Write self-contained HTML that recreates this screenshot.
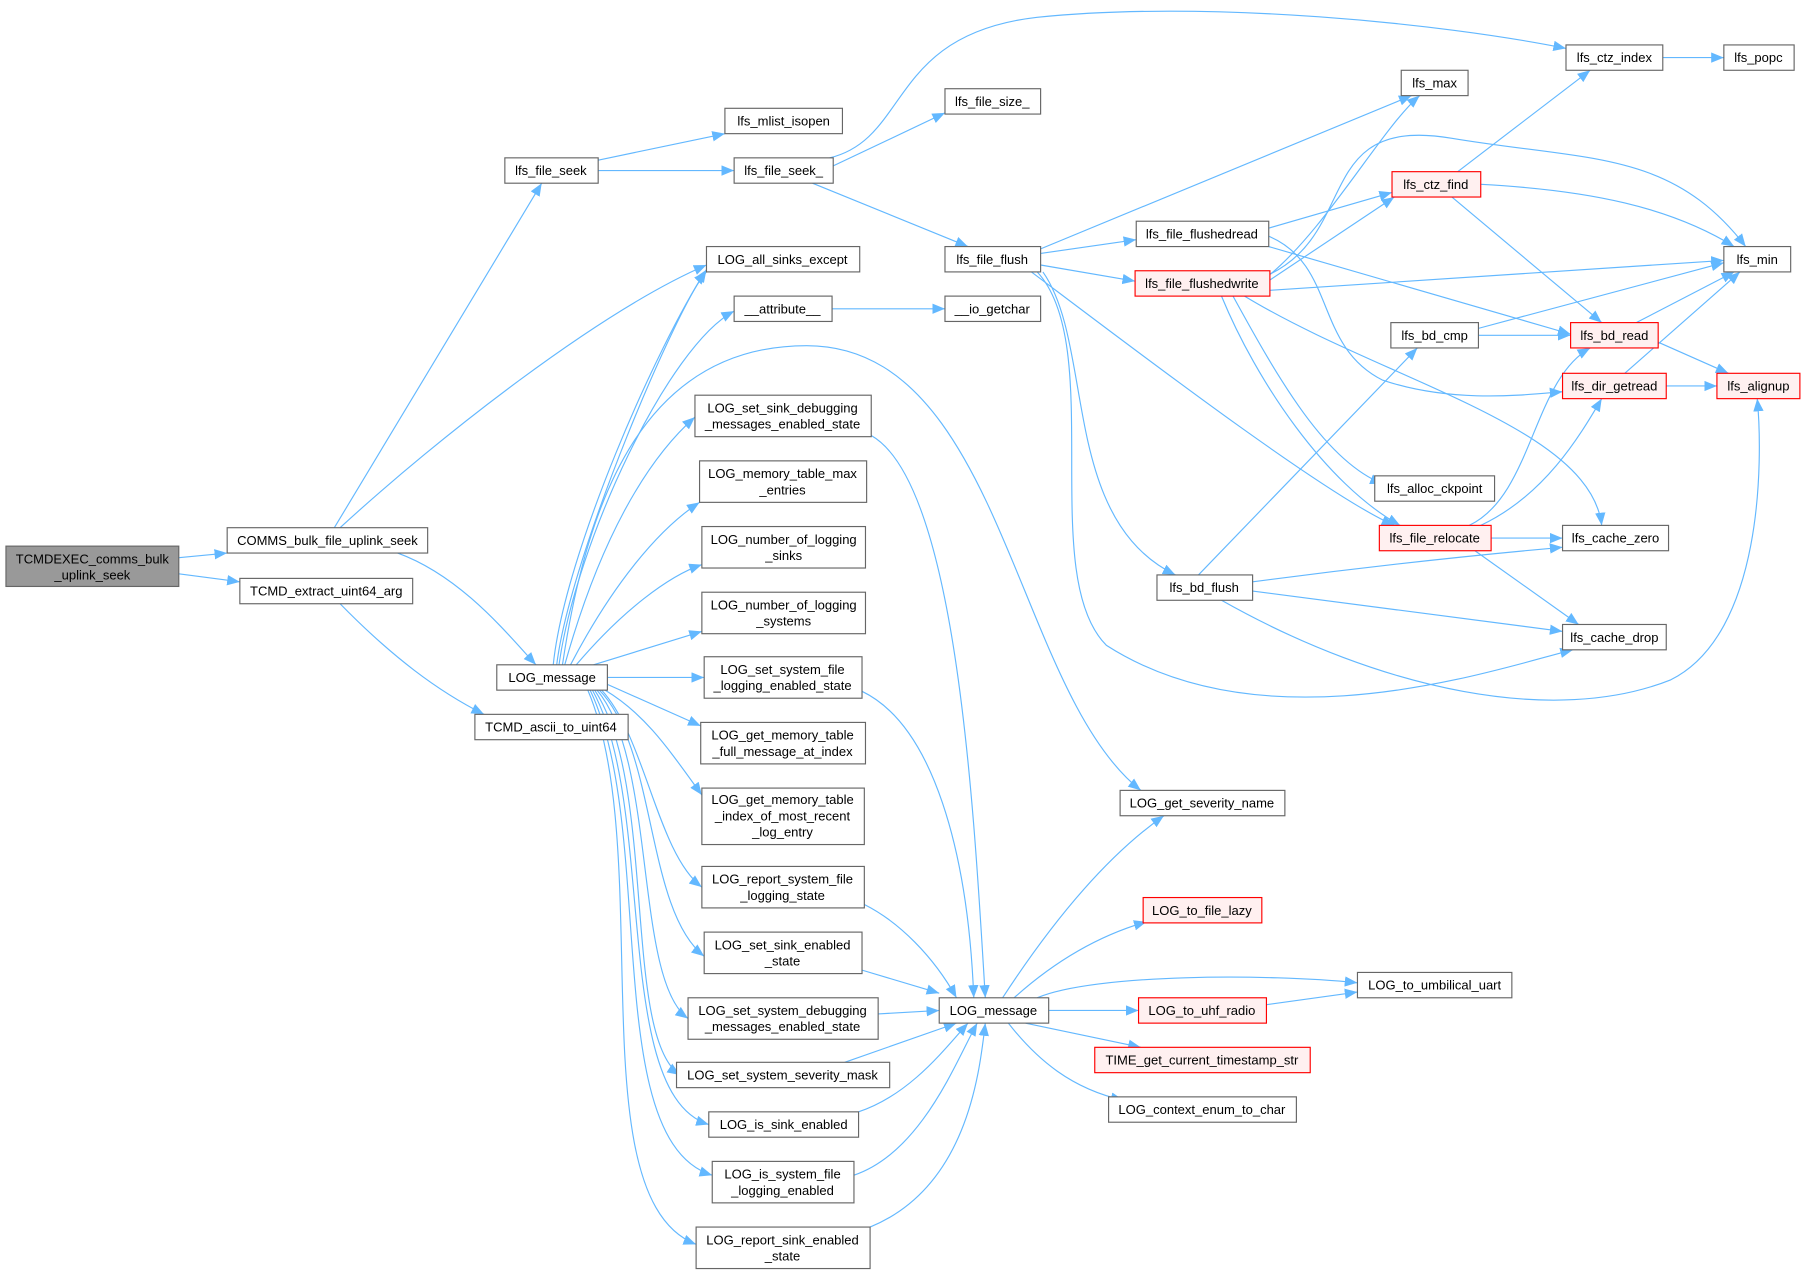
<!DOCTYPE html>
<html><head><meta charset="utf-8"><style>
html,body{margin:0;padding:0;background:#fff;}
svg{display:block;}
text{font-family:"Liberation Sans",Arial,sans-serif;font-size:11.3px;fill:#000;}
.n{fill:#fff;stroke:#666;stroke-width:1;}
.r{fill:#fff0f0;stroke:#f00;stroke-width:1;}
.g{fill:#999;stroke:#666;stroke-width:1;}
path{fill:none;stroke:#63b8ff;stroke-width:1;marker-end:url(#a);}
</style></head><body>
<svg width="1807" height="1272" viewBox="0 0 1568 1104" xmlns="http://www.w3.org/2000/svg">
<defs><marker id="a" markerUnits="userSpaceOnUse" markerWidth="12" markerHeight="10" refX="11" refY="4.5" orient="auto"><polygon points="0,0 11,4.5 0,9" fill="#63b8ff"/></marker></defs>
<g>
<path d="M155,484 L197,480"/>
<path d="M155,498 L208,505"/>
<path d="M290,458 L470,159"/>
<path d="M295,458 C380,380 520,270 613,230"/>
<path d="M345,480 C400,500 440,550 465,577"/>
<path d="M295,524 C340,570 380,600 420,620"/>
<path d="M519,139 L629,116"/>
<path d="M519,148 L637,148"/>
<path d="M723,144 L820,98"/>
<path d="M720,137 C790,120 770,30 900,15 C1050,0 1250,20 1359,42"/>
<path d="M705,159 L840,214"/>
<path d="M722,268 L820,268"/>
<path d="M483,577 C495,480 590,260 613,236"/>
<path d="M480,577 C490,480 570,300 613,234"/>
<path d="M485,577 C500,470 580,300 637,270"/>
<path d="M488,577 C510,430 560,300 700,300 C870,300 880,600 990,686"/>
<path d="M490,577 C520,470 560,400 603,362"/>
<path d="M495,577 C530,510 570,460 607,436"/>
<path d="M500,577 C540,530 580,500 609,490"/>
<path d="M515,577 L609,548"/>
<path d="M527,588 L611,588"/>
<path d="M527,594 L608,630"/>
<path d="M525,599 C560,620 580,650 609,690"/>
<path d="M522,599 C560,640 570,740 609,770"/>
<path d="M520,599 C570,650 560,790 611,830"/>
<path d="M518,599 C570,660 550,850 597,884"/>
<path d="M516,599 C570,680 540,900 590,933"/>
<path d="M514,599 C570,700 530,950 615,976"/>
<path d="M512,599 C570,720 520,990 618,1020"/>
<path d="M510,599 C570,740 500,1040 604,1080"/>
<path d="M756,378 C830,420 845,700 855,866"/>
<path d="M748,600 C810,630 840,740 845,866"/>
<path d="M750,785 C780,800 810,830 830,866"/>
<path d="M748,842 L815,862"/>
<path d="M762,880 L815,877"/>
<path d="M733,922 L830,888"/>
<path d="M745,965 C790,950 820,910 840,888"/>
<path d="M741,1020 C800,1000 830,920 848,888"/>
<path d="M755,1065 C840,1030 850,930 855,888"/>
<path d="M870,866 C900,820 950,750 1010,708"/>
<path d="M880,866 C920,830 960,810 995,800"/>
<path d="M900,866 C950,845 1100,845 1178,853"/>
<path d="M910,877 L988,877"/>
<path d="M890,888 L990,909"/>
<path d="M875,888 C900,920 930,945 975,955"/>
<path d="M1099,872 L1178,861"/>
<path d="M903,216 L1225,83"/>
<path d="M903,220 L986,208"/>
<path d="M903,230 L985,244"/>
<path d="M895,236 C980,300 1150,430 1210,456"/>
<path d="M905,236 C950,300 920,450 1020,499"/>
<path d="M900,236 C960,300 900,500 960,560 C1100,650 1300,580 1365,564"/>
<path d="M1101,198 L1208,167"/>
<path d="M1101,214 L1363,290"/>
<path d="M1101,205 C1160,230 1140,300 1200,330 C1260,350 1320,343 1356,340"/>
<path d="M1100,240 C1150,200 1200,110 1232,83"/>
<path d="M1102,243 L1210,171"/>
<path d="M1102,238 C1180,200 1140,100 1260,120 C1380,140 1450,130 1515,214"/>
<path d="M1102,252 L1496,226"/>
<path d="M1070,257 C1110,330 1150,400 1200,420"/>
<path d="M1060,257 C1090,330 1150,420 1215,456"/>
<path d="M1080,257 C1200,330 1380,370 1390,456"/>
<path d="M1265,149 L1380,61"/>
<path d="M1285,160 C1380,165 1450,180 1505,214"/>
<path d="M1260,171 L1390,280"/>
<path d="M1443,50 L1496,50"/>
<path d="M1283,285 L1496,228"/>
<path d="M1283,291 L1363,291"/>
<path d="M1420,280 L1505,236"/>
<path d="M1439,297 L1500,324"/>
<path d="M1410,324 L1510,236"/>
<path d="M1446,335 L1490,335"/>
<path d="M1275,456 C1330,430 1330,330 1380,302"/>
<path d="M1285,456 C1340,430 1370,380 1390,346"/>
<path d="M1294,467 L1356,467"/>
<path d="M1280,478 L1370,542"/>
<path d="M1040,499 L1230,302"/>
<path d="M1087,505 C1200,490 1300,480 1356,475"/>
<path d="M1087,513 L1356,548"/>
<path d="M1060,521 C1200,600 1350,630 1450,590 C1530,550 1530,400 1525,346"/>
</g>
<g text-anchor="middle">
<rect class="g" x="5" y="474" width="150" height="35"/><text x="80" y="489">TCMDEXEC_comms_bulk</text><text x="80" y="503">_uplink_seek</text>
<rect class="n" x="197" y="458" width="174" height="22"/><text x="284" y="473">COMMS_bulk_file_uplink_seek</text>
<rect class="n" x="208" y="502" width="150" height="22"/><text x="283" y="517">TCMD_extract_uint64_arg</text>
<rect class="n" x="438" y="137" width="81" height="22"/><text x="478" y="152">lfs_file_seek</text>
<rect class="n" x="431" y="577" width="96" height="22"/><text x="479" y="592">LOG_message</text>
<rect class="n" x="412" y="620" width="133" height="22"/><text x="478" y="635">TCMD_ascii_to_uint64</text>
<rect class="n" x="629" y="94" width="102" height="22"/><text x="680" y="109">lfs_mlist_isopen</text>
<rect class="n" x="637" y="137" width="86" height="22"/><text x="680" y="152">lfs_file_seek_</text>
<rect class="n" x="613" y="214" width="133" height="22"/><text x="679" y="229">LOG_all_sinks_except</text>
<rect class="n" x="637" y="257" width="85" height="22"/><text x="679" y="272">__attribute__</text>
<rect class="n" x="603" y="343" width="153" height="36"/><text x="679" y="358">LOG_set_sink_debugging</text><text x="679" y="372">_messages_enabled_state</text>
<rect class="n" x="607" y="400" width="145" height="36"/><text x="679" y="415">LOG_memory_table_max</text><text x="679" y="429">_entries</text>
<rect class="n" x="609" y="457" width="142" height="36"/><text x="680" y="472">LOG_number_of_logging</text><text x="680" y="486">_sinks</text>
<rect class="n" x="609" y="514" width="142" height="36"/><text x="680" y="529">LOG_number_of_logging</text><text x="680" y="543">_systems</text>
<rect class="n" x="611" y="570" width="137" height="36"/><text x="679" y="585">LOG_set_system_file</text><text x="679" y="599">_logging_enabled_state</text>
<rect class="n" x="608" y="627" width="143" height="36"/><text x="679" y="642">LOG_get_memory_table</text><text x="679" y="656">_full_message_at_index</text>
<rect class="n" x="609" y="684" width="141" height="49"/><text x="679" y="698">LOG_get_memory_table</text><text x="679" y="712">_index_of_most_recent</text><text x="679" y="726">_log_entry</text>
<rect class="n" x="609" y="752" width="141" height="36"/><text x="679" y="767">LOG_report_system_file</text><text x="679" y="781">_logging_state</text>
<rect class="n" x="611" y="809" width="137" height="36"/><text x="679" y="824">LOG_set_sink_enabled</text><text x="679" y="838">_state</text>
<rect class="n" x="597" y="866" width="165" height="36"/><text x="679" y="881">LOG_set_system_debugging</text><text x="679" y="895">_messages_enabled_state</text>
<rect class="n" x="587" y="922" width="185" height="22"/><text x="679" y="937">LOG_set_system_severity_mask</text>
<rect class="n" x="615" y="965" width="130" height="22"/><text x="680" y="980">LOG_is_sink_enabled</text>
<rect class="n" x="618" y="1008" width="123" height="36"/><text x="679" y="1023">LOG_is_system_file</text><text x="679" y="1037">_logging_enabled</text>
<rect class="n" x="604" y="1065" width="151" height="36"/><text x="679" y="1080">LOG_report_sink_enabled</text><text x="679" y="1094">_state</text>
<rect class="n" x="820" y="77" width="83" height="22"/><text x="861" y="92">lfs_file_size_</text>
<rect class="n" x="820" y="214" width="83" height="22"/><text x="861" y="229">lfs_file_flush</text>
<rect class="n" x="820" y="257" width="83" height="22"/><text x="861" y="272">__io_getchar</text>
<rect class="n" x="815" y="866" width="95" height="22"/><text x="862" y="881">LOG_message</text>
<rect class="n" x="972" y="686" width="143" height="22"/><text x="1043" y="701">LOG_get_severity_name</text>
<rect class="r" x="992" y="779" width="103" height="22"/><text x="1043" y="794">LOG_to_file_lazy</text>
<rect class="r" x="988" y="866" width="111" height="22"/><text x="1043" y="881">LOG_to_uhf_radio</text>
<rect class="r" x="950" y="909" width="187" height="22"/><text x="1043" y="924">TIME_get_current_timestamp_str</text>
<rect class="n" x="962" y="952" width="163" height="22"/><text x="1043" y="967">LOG_context_enum_to_char</text>
<rect class="n" x="1178" y="844" width="134" height="22"/><text x="1245" y="859">LOG_to_umbilical_uart</text>
<rect class="n" x="986" y="192" width="115" height="22"/><text x="1043" y="207">lfs_file_flushedread</text>
<rect class="r" x="985" y="235" width="117" height="22"/><text x="1043" y="250">lfs_file_flushedwrite</text>
<rect class="n" x="1004" y="499" width="83" height="22"/><text x="1045" y="514">lfs_bd_flush</text>
<rect class="n" x="1216" y="61" width="58" height="22"/><text x="1245" y="76">lfs_max</text>
<rect class="n" x="1359" y="39" width="84" height="22"/><text x="1401" y="54">lfs_ctz_index</text>
<rect class="n" x="1496" y="39" width="61" height="22"/><text x="1526" y="54">lfs_popc</text>
<rect class="r" x="1208" y="149" width="77" height="22"/><text x="1246" y="164">lfs_ctz_find</text>
<rect class="n" x="1496" y="214" width="58" height="22"/><text x="1525" y="229">lfs_min</text>
<rect class="n" x="1207" y="280" width="76" height="22"/><text x="1245" y="295">lfs_bd_cmp</text>
<rect class="r" x="1363" y="280" width="76" height="22"/><text x="1401" y="295">lfs_bd_read</text>
<rect class="r" x="1356" y="324" width="90" height="22"/><text x="1401" y="339">lfs_dir_getread</text>
<rect class="r" x="1490" y="324" width="72" height="22"/><text x="1526" y="339">lfs_alignup</text>
<rect class="n" x="1193" y="413" width="104" height="22"/><text x="1245" y="428">lfs_alloc_ckpoint</text>
<rect class="r" x="1197" y="456" width="97" height="22"/><text x="1245" y="471">lfs_file_relocate</text>
<rect class="n" x="1356" y="456" width="92" height="22"/><text x="1402" y="471">lfs_cache_zero</text>
<rect class="n" x="1356" y="542" width="90" height="22"/><text x="1401" y="557">lfs_cache_drop</text>
</g>
</svg>
</body></html>
